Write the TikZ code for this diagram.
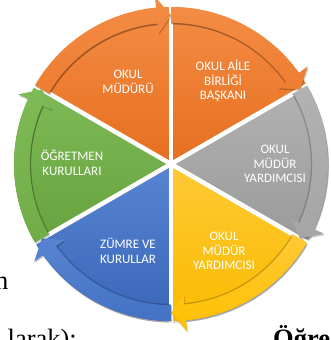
\documentclass[tikz,border=0pt]{standalone}
\usepackage{fontspec}
\setmainfont{Liberation Serif}
\newfontfamily\calibfont{Carlito}
\definecolor{oraB}{HTML}{ED7D31}
\definecolor{oraL}{HTML}{F48C44}
\definecolor{oraD}{HTML}{E66F1F}
\definecolor{grayB}{HTML}{A5A5A5}
\definecolor{grayL}{HTML}{B2B2B2}
\definecolor{grayD}{HTML}{9A9A9A}
\definecolor{yelB}{HTML}{FFC000}
\definecolor{yelL}{HTML}{FFC935}
\definecolor{yelD}{HTML}{FABB00}
\definecolor{bluB}{HTML}{4472C4}
\definecolor{bluL}{HTML}{5784D2}
\definecolor{bluD}{HTML}{3A66B8}
\definecolor{grnB}{HTML}{70AD47}
\definecolor{grnL}{HTML}{7EBA55}
\definecolor{grnD}{HTML}{66A23E}
\tikzset{
  lbl/.style={text=white, font=\calibfont\fontsize{13}{14.5}\selectfont, align=center, inner sep=0pt},
  bgtext/.style={font=\fontsize{26.5}{30}\selectfont, inner sep=0pt},
  gapline/.style={white, line width=4.5pt},
}
% #1 start angle, #2 end angle, #3 light colour, #4 dark colour
\newcommand\cySector[4]{%
  \fill[black, opacity=0.18, shift={(C)}, xshift=1pt, yshift=-1.8pt] (0,0) -- (#1:157pt) arc[start angle=#1, end angle=#2, radius=157pt] -- cycle;
  \shade[top color=#3, bottom color=#4, shift={(C)}] (0,0) -- (#1:157pt) arc[start angle=#1, end angle=#2, radius=157pt] -- cycle;
}
\newcommand\cyArrow[4]{%
  \pgfmathsetmacro\cyBack{#2+5.5}
  \fill[black, opacity=0.2, shift={(C)}, xshift=0.8pt, yshift=-1.5pt] (#1:157pt) arc[start angle=#1, end angle=\cyBack, radius=157pt] -- (\cyBack:168pt) -- (#2:149pt) -- (\cyBack:131pt) -- (\cyBack:141pt) arc[start angle=\cyBack, end angle=#1, radius=141pt] -- cycle;
  \shade[top color=#3, bottom color=#4, shift={(C)}] (#1:157pt) arc[start angle=#1, end angle=\cyBack, radius=157pt] -- (\cyBack:168pt) -- (#2:149pt) -- (\cyBack:131pt) -- (\cyBack:141pt) arc[start angle=\cyBack, end angle=#1, radius=141pt] -- cycle;
  \draw[black, opacity=0.2, line width=1.3pt, shift={(C)}] (#1:140.5pt) arc[start angle=#1, end angle=\cyBack, radius=140.5pt];
}
\begin{document}
\begin{tikzpicture}[x=1pt,y=1pt]
\useasboundingbox (0,0) rectangle (331,340);
\fill[white] (0,0) rectangle (331,340);
\coordinate (C) at (171,176);
% background document text
\node[bgtext, anchor=base east] (bgn) at (8.5,50) {n};
\node[bgtext, anchor=base east] (bglarak) at (77,-7) {larak):};
\node[bgtext, anchor=base west, font=\fontsize{26.5}{30}\selectfont\bfseries] (bgogr) at (273,-7) {Öğre};
% sectors
\cySector{90}{150}{oraL}{oraD}
\cySector{30}{90}{oraL}{oraD}
\cySector{-30}{30}{grayL}{grayD}
\cySector{-90}{-30}{yelL}{yelD}
\cySector{-150}{-90}{bluL}{bluD}
\cySector{150}{210}{grnL}{grnD}
% gaps
\foreach \g in {90,30,-30,-90,-150,150}
  \draw[gapline] (C) -- ++(\g:160pt);
% arrows
\cyArrow{150}{90}{oraL}{oraB}
\cyArrow{90}{30}{oraL}{oraB}
\cyArrow{30}{-30}{grayL}{grayB}
\cyArrow{-30}{-90}{yelL}{yelB}
\cyArrow{-90}{-150}{bluL}{bluB}
\cyArrow{210}{150}{grnL}{grnB}
% labels
\node[lbl] (t1) at (128,258) {OKUL\\MÜDÜRÜ};
\node[lbl] (t2) at (223,259) {OKUL AİLE\\BİRLİĞİ\\BAŞKANI};
\node[lbl] (t3) at (275,176) {OKUL\\MÜDÜR\\YARDIMCISI};
\node[lbl] (t4) at (224,89) {OKUL\\MÜDÜR\\YARDIMCISI};
\node[lbl] (t5) at (128,89) {ZÜMRE VE\\KURULLAR};
\node[lbl] (t6) at (72,177) {ÖĞRETMEN\\KURULLARI};
\end{tikzpicture}
\end{document}
